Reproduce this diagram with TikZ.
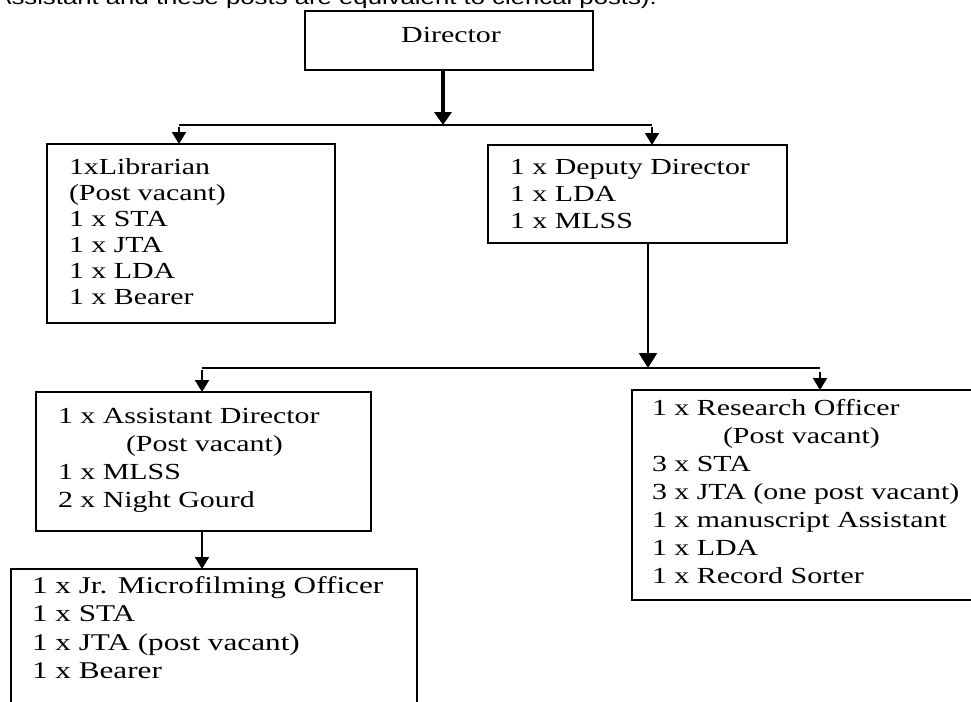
\documentclass[tikz,border=0pt]{standalone}
\usepackage{fontspec}
\setmainfont{Liberation Serif}[FakeStretch=1.3]
\newfontfamily\capfont{Liberation Sans}[FakeStretch=1.3]
\usetikzlibrary{arrows.meta}
\tikzset{
  box/.style={draw,line width=1.8pt,inner sep=0pt,outer sep=0pt,anchor=north west},
  txt/.style={inner sep=0pt,outer sep=0pt,anchor=base west},
  conn/.style={line width=2pt},
  arr/.style={line width=2pt,-{Triangle[width=14pt,length=12pt]}},
  midarr/.style={line width=2.4pt,-{Triangle[width=18pt,length=15pt]}},
  bigarr/.style={line width=4pt,-{Triangle[width=17pt,length=13pt]}}
}
\begin{document}
\begin{tikzpicture}[x=1pt,y=-1pt]
\begin{scope}
\clip (0,0) rectangle (971,701);
\fill[white] (0,0) rectangle (971,701);
% cut-off caption line
\node[inner sep=0pt,anchor=base east,font=\capfont\fontsize{19.8}{22}\selectfont] (cap) at (657,5)
  {Assistant and these posts are equivalent to clerical posts).};
% boxes
\node[box,minimum width=288pt,minimum height=59pt] (dir) at (305,11) {};
\node[box,minimum width=288pt,minimum height=179pt] (lib) at (47,144) {};
\node[box,minimum width=299pt,minimum height=98pt] (dep) at (488,145) {};
\node[box,minimum width=335pt,minimum height=139pt] (ast) at (36,392) {};
\node[box,minimum width=406pt,minimum height=150pt] (bot) at (11,569) {};
\node[box,minimum width=345pt,minimum height=210pt] (res) at (632,390) {};
% texts
\node[inner sep=0pt,anchor=base,font=\fontsize{23}{26}\selectfont] (dirT) at (451,43) {Director};
\node[txt,font=\fontsize{23}{26}\selectfont] (libT) at (69,174)
  {\begin{tabular}[t]{@{}l@{}}1xLibrarian\\(Post vacant)\\1 x STA\\1 x JTA\\1 x LDA\\1 x Bearer\end{tabular}};
\node[txt,font=\fontsize{23}{27}\selectfont] (depT) at (510,174)
  {\begin{tabular}[t]{@{}l@{}}1 x Deputy Director\\1 x LDA\\1 x MLSS\end{tabular}};
\node[txt,font=\fontsize{23}{28}\selectfont] (astT) at (58,423)
  {\begin{tabular}[t]{@{}l@{}}1 x Assistant Director\\\hspace*{68pt}(Post vacant)\\1 x MLSS\\2 x Night Gourd\end{tabular}};
\node[txt,font=\fontsize{23}{28}\selectfont] (resT) at (652,415)
  {\begin{tabular}[t]{@{}l@{}}1 x Research Officer\\\hspace*{71pt}(Post vacant)\\3 x STA\\3 x JTA (one post vacant)\\1 x manuscript Assistant\\1 x LDA\\1 x Record Sorter\end{tabular}};
\node[txt,font=\fontsize{24}{28.5}\selectfont] (botT) at (32,593)
  {\begin{tabular}[t]{@{}l@{}}1 x Jr. Microfilming Officer\\1 x STA\\1 x JTA (post vacant)\\1 x Bearer\end{tabular}};
% junctions
\coordinate (j1) at (443,125);
\coordinate (h1l) at (179,125);
\coordinate (h1r) at (652,125);
\coordinate (j2) at (648,368);
\coordinate (h2l) at (202,368);
\coordinate (h2r) at (820,368);
% connectors
\draw[bigarr] (dir.south -| j1) -- (j1);
\draw[conn] (h1l) -- (h1r);
\draw[arr] ([yshift=-2pt]h1l) -- (h1l |- lib.north);
\draw[arr] ([yshift=-2pt]h1r) -- (h1r |- dep.north);
\draw[midarr] (dep.south -| j2) -- (j2);
\draw[conn] (h2l) -- (h2r);
\draw[arr] ([yshift=-2pt]h2l) -- (h2l |- ast.north);
\draw[arr] ([yshift=-4pt]h2r) -- (h2r |- res.north);
\draw[arr] (ast.south -| h2l) -- (h2l |- bot.north);
\end{scope}
\pgfresetboundingbox
\useasboundingbox (0,0) rectangle (971,701);
\end{tikzpicture}
\end{document}
